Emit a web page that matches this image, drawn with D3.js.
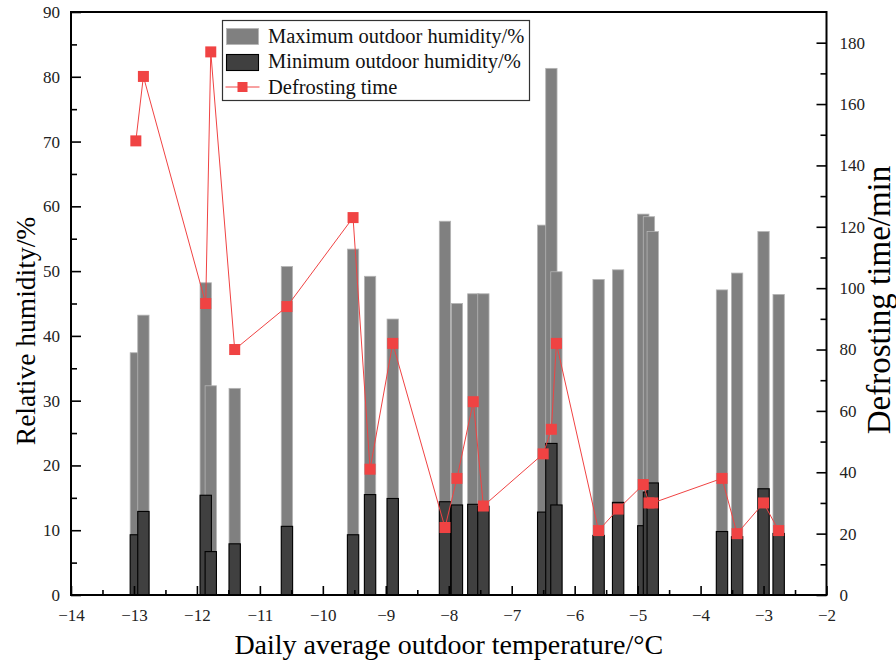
<!DOCTYPE html>
<html>
<head>
<meta charset="utf-8">
<script src="https://cdn.jsdelivr.net/npm/d3@7"></script>
<style>
  body { margin: 0; background: #fff; }
  #canvas { width: 896px; height: 663px; }
  text { font-family: "Liberation Serif", "Times New Roman", serif; }
</style>
</head>
<body>
<div id="canvas" class="canvas"></div>
<script>
// daily average outdoor temperature (°C) for each test day
var temps = [-12.97,-12.85,-11.86,-11.78,-11.40,-10.57,-9.52,-9.25,-8.89,-8.06,-7.87,-7.61,-7.45,
             -6.50,-6.37,-6.29,-5.62,-5.31,-4.91,-4.82,-4.76,-3.66,-3.42,-3.00,-2.76];
var maxHumidity = [37.4,43.2,48.2,32.3,31.9,50.7,53.4,49.2,42.6,57.7,45.0,46.5,46.5,
                   57.1,81.3,49.9,48.7,50.2,58.8,58.4,56.1,47.1,49.7,56.1,46.4];
var minHumidity = [9.3,12.9,15.4,6.7,7.9,10.6,9.3,15.5,14.9,14.4,13.9,14.0,13.7,
                   12.8,23.4,13.9,9.2,14.3,10.7,15.9,17.3,9.8,9.0,16.4,9.5];
var defrostTime = [148,169,95,177,80,94,123,41,82,22,38,63,29,
                   46,54,82,21,28,36,30,30,38,20,30,21];

var xTicks = d3.range(-14, -1, 1);
var yLeftTicks = d3.range(0, 91, 10);
var yRightTicks = d3.range(0, 181, 20);

var legendLabels = ['Maximum outdoor humidity/%', 'Minimum outdoor humidity/%', 'Defrosting time'];

var rows = temps.map(function(t, i){
    return {t: t, max: maxHumidity[i], min: minHumidity[i], defrost: defrostTime[i]};
});

// margin convention
var m = {t:12, r:69.5, b:68, l:71};
var outerWidth = 896, outerHeight = 663;
var w = outerWidth - m.l - m.r,
    h = outerHeight - m.t - m.b;

var svg = d3.select('.canvas')
    .append('svg')
    .attr('width', outerWidth)
    .attr('height', outerHeight);

var plot = svg.append('g')
    .attr('transform', 'translate(' + m.l + ',' + m.t + ')');

var scaleX = d3.scaleLinear().domain([-14, -2]).range([0, w]);
var scaleY = d3.scaleLinear().domain([0, 90]).range([h, 0]);
var scaleY2 = d3.scaleLinear().domain([0, 190]).range([h, 0]);

var barW = scaleX(-14 + 0.18) - scaleX(-14);

// max humidity bars (all first), then min humidity bars on top
plot.selectAll('.bar-max')
    .data(rows)
    .enter()
    .append('rect')
    .attr('class', 'bar-max')
    .attr('x', function(d){ return scaleX(d.t) - barW/2; })
    .attr('y', function(d){ return scaleY(d.max); })
    .attr('width', barW)
    .attr('height', function(d){ return h - scaleY(d.max); })
    .style('fill', '#808080')
    .style('stroke', '#b4b4b4')
    .style('stroke-width', 0.8);

plot.selectAll('.bar-min')
    .data(rows)
    .enter()
    .append('rect')
    .attr('class', 'bar-min')
    .attr('x', function(d){ return scaleX(d.t) - barW/2; })
    .attr('y', function(d){ return scaleY(d.min); })
    .attr('width', barW)
    .attr('height', function(d){ return h - scaleY(d.min); })
    .style('fill', '#404040')
    .style('stroke', '#000')
    .style('stroke-width', 1.1);

// defrosting time line + markers
var line = d3.line()
    .x(function(d){ return scaleX(d.t); })
    .y(function(d){ return scaleY2(d.defrost); });

plot.append('path')
    .datum(rows)
    .attr('d', line)
    .style('fill', 'none')
    .style('stroke', '#f04343')
    .style('stroke-width', 1);

var mk = 11;
plot.selectAll('.marker')
    .data(rows)
    .enter()
    .append('rect')
    .attr('class', 'marker')
    .attr('x', function(d){ return scaleX(d.t) - mk/2; })
    .attr('y', function(d){ return scaleY2(d.defrost) - mk/2; })
    .attr('width', mk)
    .attr('height', mk)
    .style('fill', '#f04343');

// axes (ticks point inward)
function styleAxis(g){
    g.attr('font-family', 'Liberation Serif').attr('font-size', 17);
    g.select('.domain').remove();
    g.selectAll('.tick line').style('stroke', '#000').style('stroke-width', 1.6);
    g.selectAll('.tick text')
        .attr('font-family', 'Liberation Serif')
        .style('font-family', 'Liberation Serif')
        .style('font-size', '17px')
        .style('fill', '#222');
}

var axisX = d3.axisBottom(scaleX).tickValues(xTicks).tickSize(-9).tickPadding(14).tickFormat(d3.format('d'));
plot.append('g').attr('class','axis axis-x').attr('transform','translate(0,' + h + ')').call(axisX).call(styleAxis);
var axisXMinor = d3.axisBottom(scaleX).tickValues(d3.range(-13.5, -2, 1)).tickSize(-5).tickFormat('');
plot.append('g').attr('class','axis axis-x-minor').attr('transform','translate(0,' + h + ')').call(axisXMinor).call(styleAxis);

var axisY = d3.axisLeft(scaleY).tickValues(yLeftTicks).tickSize(-10).tickPadding(11);
plot.append('g').attr('class','axis axis-y').call(axisY).call(styleAxis);
var axisYMinor = d3.axisLeft(scaleY).tickValues(d3.range(5, 90, 10)).tickSize(-6).tickFormat('');
plot.append('g').attr('class','axis axis-y-minor').call(axisYMinor).call(styleAxis);

var axisY2 = d3.axisRight(scaleY2).tickValues(yRightTicks).tickSize(-10).tickPadding(13);
plot.append('g').attr('class','axis axis-y2').attr('transform','translate(' + w + ',0)').call(axisY2).call(styleAxis);
var axisY2Minor = d3.axisRight(scaleY2).tickValues(d3.range(10, 190, 20)).tickSize(-6).tickFormat('');
plot.append('g').attr('class','axis axis-y2-minor').attr('transform','translate(' + w + ',0)').call(axisY2Minor).call(styleAxis);

// frame
plot.append('rect')
    .attr('x', 0).attr('y', 0).attr('width', w).attr('height', h)
    .style('fill', 'none')
    .style('stroke', '#000')
    .style('stroke-width', 2);

// axis titles
svg.append('text')
    .attr('x', m.l + w/2).attr('y', 654)
    .attr('text-anchor', 'middle')
    .style('font-size', '28px')
    .text('Daily average outdoor temperature/°C');

svg.append('text')
    .attr('transform', 'translate(35,' + 331 + ') rotate(-90)')
    .attr('text-anchor', 'middle')
    .style('font-size', '27.5px')
    .text('Relative humidity/%');

svg.append('text')
    .attr('transform', 'translate(890,' + 300 + ') rotate(-90)')
    .attr('text-anchor', 'middle')
    .style('font-size', '33px')
    .text('Defrosting time/min');

// legend
var legend = svg.append('g').attr('transform', 'translate(222.5,20.5)');
legend.append('rect')
    .attr('width', 307).attr('height', 80)
    .style('fill', '#fff')
    .style('stroke', '#333')
    .style('stroke-width', 1.2);

legend.append('rect').attr('x', 4).attr('y', 8).attr('width', 32).attr('height', 16)
    .style('fill', '#808080').style('stroke', '#b4b4b4').style('stroke-width', 0.8);
legend.append('rect').attr('x', 4).attr('y', 34).attr('width', 32).attr('height', 16)
    .style('fill', '#404040').style('stroke', '#000').style('stroke-width', 1.1);
legend.append('line').attr('x1', 3).attr('x2', 37).attr('y1', 66.5).attr('y2', 66.5)
    .style('stroke', '#f04343').style('stroke-width', 1);
legend.append('rect').attr('x', 15).attr('y', 61.5).attr('width', 10).attr('height', 10)
    .style('fill', '#f04343');

legend.selectAll('.legend-label')
    .data(legendLabels)
    .enter()
    .append('text')
    .attr('class', 'legend-label')
    .attr('x', 45.5)
    .attr('y', function(d, i){ return 22 + i * 25.5; })
    .style('font-size', '20.5px')
    .style('fill', '#111')
    .text(function(d){ return d; });
</script>
</body>
</html>
